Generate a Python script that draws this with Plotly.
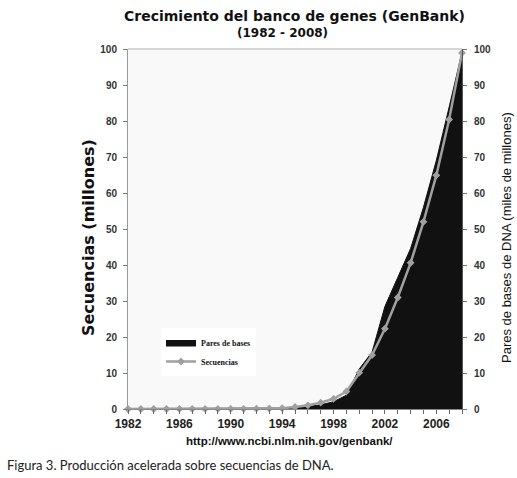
import plotly.graph_objects as go

years = list(range(1982, 2009))
secuencias = [0.0006, 0.0024, 0.0042, 0.0057, 0.0097, 0.0145, 0.020, 0.029, 0.039,
              0.055, 0.079, 0.143, 0.215, 0.555, 1.02, 1.77, 2.84, 4.86, 10.1,
              14.98, 22.3, 30.97, 40.6, 52.0, 64.9, 80.4, 98.9]
pares_bases = [0.0007, 0.0022, 0.0034, 0.0051, 0.0094, 0.0155, 0.0243, 0.0346, 0.0493,
               0.0717, 0.101, 0.157, 0.217, 0.384, 0.652, 1.16, 2.01, 3.84, 11.1,
               15.85, 28.5, 36.55, 44.58, 56.04, 69.02, 83.87, 99.12]
x_ticks = [1982, 1986, 1990, 1994, 1998, 2002, 2006]
y_ticks = list(range(0, 101, 10))

W, H = 517, 478
L, R, T, B = 128, 462, 49, 409   # plot area in window pixels

def px(xabs):
    return (xabs - L) / (R - L)

def py(yabs):
    return (B - yabs) / (B - T)

fig = go.Figure()
fig.add_trace(go.Scatter(
    x=years, y=pares_bases, name="Pares de bases",
    mode="lines", line=dict(color="#111111", width=1), fill="tozeroy",
    fillcolor="#111111"))
fig.add_trace(go.Scatter(
    x=years, y=secuencias, name="Secuencias", mode="lines+markers", yaxis="y2",
    line=dict(color="#a0a0a0", width=2.5),
    marker=dict(symbol="diamond", size=6, color="#a0a0a0"), cliponaxis=False))

tickfont = dict(family="Liberation Sans", size=10, color="#333333", weight="bold")

fig.update_layout(
    width=W, height=H, template="none",
    margin=dict(l=L, r=W - R, t=T, b=H - B),
    paper_bgcolor="white", plot_bgcolor="#f9f9f9",
    showlegend=True,
    legend=dict(x=px(161), y=py(328), xanchor="left", yanchor="top",
                bgcolor="white", borderwidth=0,
                font=dict(family="Liberation Serif", size=8, color="#111", weight="bold"),
                itemwidth=30, tracegroupgap=0),
    xaxis=dict(range=[1982, 2008], tickvals=x_ticks, ticktext=[str(v) for v in x_ticks],
               showgrid=False, zeroline=False, showline=True, linecolor="#888888",
               linewidth=1, ticks="outside", ticklen=4, tickcolor="#666",
               tickfont=dict(family="Liberation Sans", size=12, color="#222", weight="bold"),
               minor=dict(dtick=1, tick0=1982, ticks="outside", ticklen=4, tickcolor="#666")),
    yaxis=dict(range=[0, 100], tickvals=y_ticks, showgrid=False, zeroline=False,
               showline=True, linecolor="#999999", linewidth=1, ticks="outside",
               ticklen=4, tickcolor="#777", tickfont=tickfont, ticklabelstandoff=4),
    yaxis2=dict(range=[0, 100], tickvals=y_ticks, overlaying="y", side="right",
                showgrid=False, zeroline=False, showline=True, linecolor="#555",
                linewidth=1, ticks="outside", ticklen=4, tickcolor="#777",
                tickfont=tickfont, ticklabelstandoff=5),
    shapes=[dict(type="line", xref="paper", yref="paper", x0=0, x1=1, y0=1, y1=1,
                 line=dict(color="#c8c8c8", width=1.5))],
    annotations=[
        dict(text="<b>Crecimiento del banco de genes (GenBank)</b>", xref="paper", yref="paper",
             x=px(294), y=py(16), xanchor="center", yanchor="middle",
             showarrow=False, font=dict(family="DejaVu Sans", size=14, color="#111")),
        dict(text="<b>(1982 - 2008)</b>", xref="paper", yref="paper",
             x=px(282), y=py(33), xanchor="center", yanchor="middle",
             showarrow=False, font=dict(family="DejaVu Sans", size=12, color="#111")),
        dict(text="<b>Secuencias (millones)</b>", xref="paper", yref="paper",
             x=px(88), y=py(238), xanchor="center", yanchor="middle",
             textangle=-90, showarrow=False,
             font=dict(family="DejaVu Sans", size=16, color="#111")),
        dict(text="Pares de bases de DNA (miles de millones)", xref="paper", yref="paper",
             x=px(506), y=py(238), xanchor="center", yanchor="middle",
             textangle=-90, showarrow=False,
             font=dict(family="Liberation Sans", size=13, color="#111")),
        dict(text="<b>http://www.ncbi.nlm.nih.gov/genbank/</b>", xref="paper", yref="paper",
             x=px(289), y=py(441), xanchor="center", yanchor="middle",
             showarrow=False, font=dict(family="Liberation Sans", size=11.5, color="#111")),
        dict(text="Figura 3. Producción acelerada sobre secuencias de DNA.", xref="paper",
             yref="paper", x=px(5), y=py(465), xanchor="left",
             yanchor="middle", showarrow=False,
             font=dict(family="Lato", size=13, color="#222")),
    ],
)

fig.write_html("out.html", config={"displayModeBar": False},
               post_script="document.body.style.margin='0';document.body.style.overflow='hidden';")
